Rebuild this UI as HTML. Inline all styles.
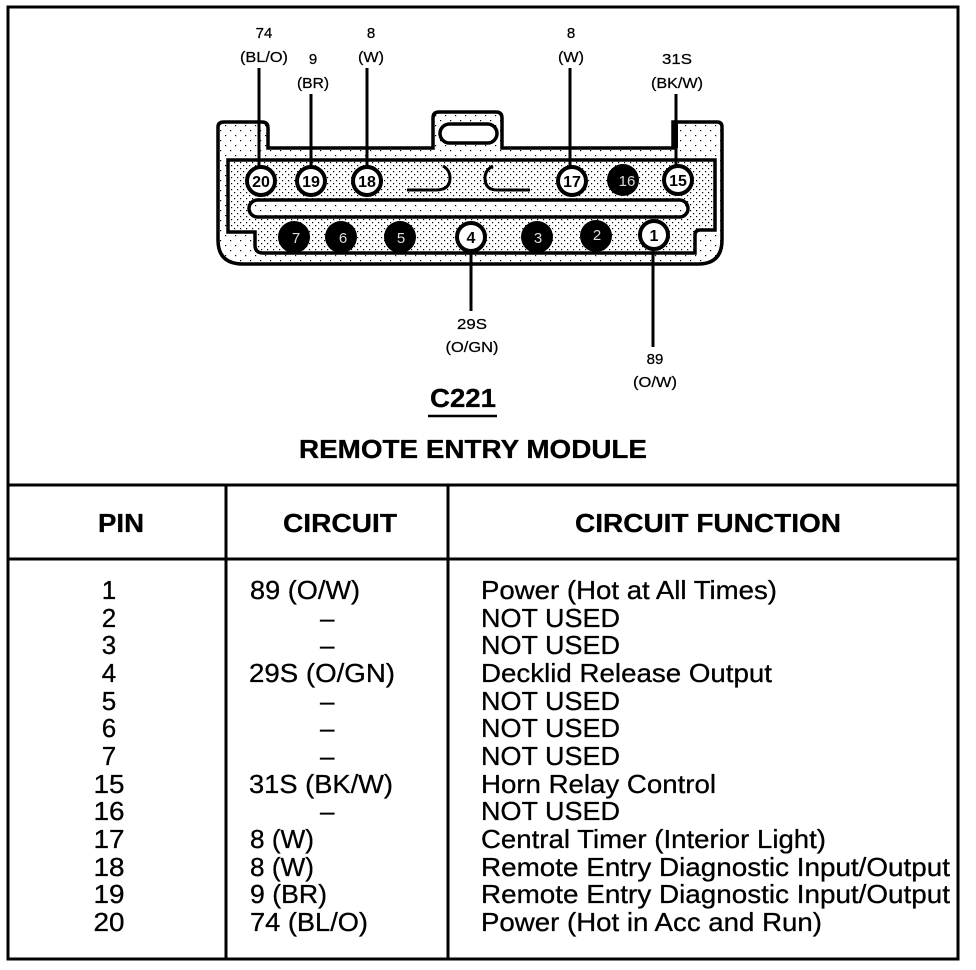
<!DOCTYPE html>
<html>
<head>
<meta charset="utf-8">
<style>
html,body{margin:0;padding:0;background:#fff;width:976px;height:970px;overflow:hidden}
svg{display:block}
text{font-family:"Liberation Sans",sans-serif;fill:#000}
.r text{font-size:26px;stroke:#000;stroke-width:.3px}
.h text{font-size:26px;font-weight:bold;stroke:#000;stroke-width:.3px}
.s text{font-size:15px;text-anchor:middle;stroke:#000;stroke-width:.25px}
.m text{text-anchor:middle}
.p circle{fill:#fff;stroke:#000;stroke-width:4}
.p text{font-size:16px;font-weight:bold;text-anchor:middle}
.b circle{fill:#000}
.b text{font-size:15px;fill:#ddd;text-anchor:middle}
.l{stroke:#000;fill:none}
</style>
</head>
<body>
<svg width="976" height="970" viewBox="0 0 976 970" xmlns="http://www.w3.org/2000/svg">
<defs>
<pattern id="d" width="6" height="6" patternUnits="userSpaceOnUse">
<rect width="6" height="6" fill="#fff"/>
<rect x="0" y="0" width="1.2" height="1.2" fill="#000"/>
<rect x="3" y="3" width="1.2" height="1.2" fill="#000"/>
</pattern>
<pattern id="e" width="10" height="10" patternUnits="userSpaceOnUse">
<rect width="10" height="10" fill="#fff"/>
<rect x="0" y="0" width="1.2" height="1.2" fill="#000"/>
<rect x="5" y="5" width="1.2" height="1.2" fill="#000"/>
</pattern>
</defs>
<rect width="976" height="970" fill="#fff"/>

<!-- frame and table -->
<rect x="8" y="7" width="950" height="952" class="l" stroke-width="3"/>
<path d="M8 485H958M8 559H958M226 485V959M448 485V959" class="l" stroke-width="3"/>

<!-- connector -->
<path d="M224 122H262Q268 122 268 128V148H433V118Q433 112 439 112H496Q502 112 502 118V148H673V122H717Q722 122 722 127V240Q722 264 698 264H243Q218 264 218 240V127Q218 122 224 122Z" fill="url(#e)" stroke="#000" stroke-width="3.5"/>
<rect x="440" y="124" width="57" height="19" rx="9.5" fill="#fff" stroke="#000" stroke-width="3.5"/>
<path d="M228 160H715V230H700Q695 230 695 235V253H263Q255 253 255 245V232H228Z" fill="url(#d)" stroke="#000" stroke-width="3.5"/>
<rect x="249" y="200" width="439" height="17" rx="8.5" fill="url(#e)" stroke="#000" stroke-width="3.5"/>
<path d="M407 190H436Q450 190 450 178Q450 170 443 166M493 166Q485 170 485 178Q485 190 497 190H530" class="l" stroke-width="3"/>

<!-- leaders -->
<path d="M259 68V167M311 94V167M367 68V167M570 68V167M676 94V167M471 250V311M653 250V347" class="l" stroke-width="3"/>
<path d="M675 122V148" class="l" stroke-width="6"/>

<!-- pins -->
<g class="p">
<circle cx="261" cy="181" r="14"/><text x="261" y="187">20</text>
<circle cx="311" cy="181" r="14"/><text x="311" y="187">19</text>
<circle cx="367" cy="181" r="14"/><text x="367" y="187">18</text>
<circle cx="572" cy="181" r="14"/><text x="572" y="187">17</text>
<circle cx="678" cy="180" r="14"/><text x="678" y="186">15</text>
<circle cx="471" cy="237" r="14"/><text x="471" y="243">4</text>
<circle cx="654" cy="235" r="14"/><text x="654" y="241">1</text>
</g>
<g class="b">
<circle cx="623" cy="180" r="16"/><text x="627" y="186">16</text>
<circle cx="294" cy="237" r="16"/><text x="296" y="243">7</text>
<circle cx="341" cy="237" r="16"/><text x="343" y="243">6</text>
<circle cx="400" cy="237" r="16"/><text x="401" y="243">5</text>
<circle cx="537" cy="237" r="16"/><text x="538" y="243">3</text>
<circle cx="596" cy="236" r="16"/><text x="597" y="240">2</text>
</g>

<!-- wire labels -->
<g class="s">
<text x="264" y="38">74</text><text x="264" y="62" textLength="48" lengthAdjust="spacingAndGlyphs">(BL/O)</text>
<text x="313" y="64">9</text><text x="313" y="88" textLength="32" lengthAdjust="spacingAndGlyphs">(BR)</text>
<text x="371" y="38">8</text><text x="371" y="62" textLength="26" lengthAdjust="spacingAndGlyphs">(W)</text>
<text x="571" y="38">8</text><text x="571" y="62" textLength="26" lengthAdjust="spacingAndGlyphs">(W)</text>
<text x="677" y="64" textLength="30" lengthAdjust="spacingAndGlyphs">31S</text><text x="677" y="88" textLength="52" lengthAdjust="spacingAndGlyphs">(BK/W)</text>
<text x="472" y="329" textLength="30" lengthAdjust="spacingAndGlyphs">29S</text><text x="472" y="352" textLength="53" lengthAdjust="spacingAndGlyphs">(O/GN)</text>
<text x="655" y="364">89</text><text x="655" y="387" textLength="44" lengthAdjust="spacingAndGlyphs">(O/W)</text>
</g>

<!-- titles -->
<g class="h">
<text x="430" y="407" textLength="66" lengthAdjust="spacingAndGlyphs">C221</text>
<text x="299" y="458" textLength="348" lengthAdjust="spacingAndGlyphs">REMOTE ENTRY MODULE</text>
<text x="98" y="532" textLength="46" lengthAdjust="spacingAndGlyphs">PIN</text>
<text x="283" y="532" textLength="114" lengthAdjust="spacingAndGlyphs">CIRCUIT</text>
<text x="575" y="532" textLength="266" lengthAdjust="spacingAndGlyphs">CIRCUIT FUNCTION</text>
</g>
<path d="M428 416H497" class="l" stroke-width="2.5"/>

<!-- pin column -->
<g class="r m">
<text x="109" y="599">1</text>
<text x="109" y="627">2</text>
<text x="109" y="654">3</text>
<text x="109" y="682">4</text>
<text x="109" y="710">5</text>
<text x="109" y="737">6</text>
<text x="109" y="765">7</text>
<text x="109" y="793" textLength="31" lengthAdjust="spacingAndGlyphs">15</text>
<text x="109" y="820" textLength="31" lengthAdjust="spacingAndGlyphs">16</text>
<text x="109" y="848" textLength="31" lengthAdjust="spacingAndGlyphs">17</text>
<text x="109" y="876" textLength="31" lengthAdjust="spacingAndGlyphs">18</text>
<text x="109" y="903" textLength="31" lengthAdjust="spacingAndGlyphs">19</text>
<text x="109" y="931" textLength="31" lengthAdjust="spacingAndGlyphs">20</text>
</g>

<!-- circuit column -->
<g class="r">
<text x="250" y="599" textLength="110" lengthAdjust="spacingAndGlyphs">89 (O/W)</text>
<text x="320" y="627">–</text>
<text x="320" y="654">–</text>
<text x="249" y="682" textLength="146" lengthAdjust="spacingAndGlyphs">29S (O/GN)</text>
<text x="320" y="710">–</text>
<text x="320" y="737">–</text>
<text x="320" y="765">–</text>
<text x="249" y="793" textLength="144" lengthAdjust="spacingAndGlyphs">31S (BK/W)</text>
<text x="320" y="820">–</text>
<text x="250" y="848" textLength="64" lengthAdjust="spacingAndGlyphs">8 (W)</text>
<text x="250" y="876" textLength="64" lengthAdjust="spacingAndGlyphs">8 (W)</text>
<text x="250" y="903" textLength="77" lengthAdjust="spacingAndGlyphs">9 (BR)</text>
<text x="250" y="931" textLength="118" lengthAdjust="spacingAndGlyphs">74 (BL/O)</text>
</g>

<!-- function column -->
<g class="r">
<text x="481" y="599" textLength="296" lengthAdjust="spacingAndGlyphs">Power (Hot at All Times)</text>
<text x="481" y="627" textLength="139" lengthAdjust="spacingAndGlyphs">NOT USED</text>
<text x="481" y="654" textLength="139" lengthAdjust="spacingAndGlyphs">NOT USED</text>
<text x="481" y="682" textLength="291" lengthAdjust="spacingAndGlyphs">Decklid Release Output</text>
<text x="481" y="710" textLength="139" lengthAdjust="spacingAndGlyphs">NOT USED</text>
<text x="481" y="737" textLength="139" lengthAdjust="spacingAndGlyphs">NOT USED</text>
<text x="481" y="765" textLength="139" lengthAdjust="spacingAndGlyphs">NOT USED</text>
<text x="481" y="793" textLength="235" lengthAdjust="spacingAndGlyphs">Horn Relay Control</text>
<text x="481" y="820" textLength="139" lengthAdjust="spacingAndGlyphs">NOT USED</text>
<text x="481" y="848" textLength="345" lengthAdjust="spacingAndGlyphs">Central Timer (Interior Light)</text>
<text x="481" y="876" textLength="469" lengthAdjust="spacingAndGlyphs">Remote Entry Diagnostic Input/Output</text>
<text x="481" y="903" textLength="469" lengthAdjust="spacingAndGlyphs">Remote Entry Diagnostic Input/Output</text>
<text x="481" y="931" textLength="341" lengthAdjust="spacingAndGlyphs">Power (Hot in Acc and Run)</text>
</g>
</svg>
</body>
</html>
